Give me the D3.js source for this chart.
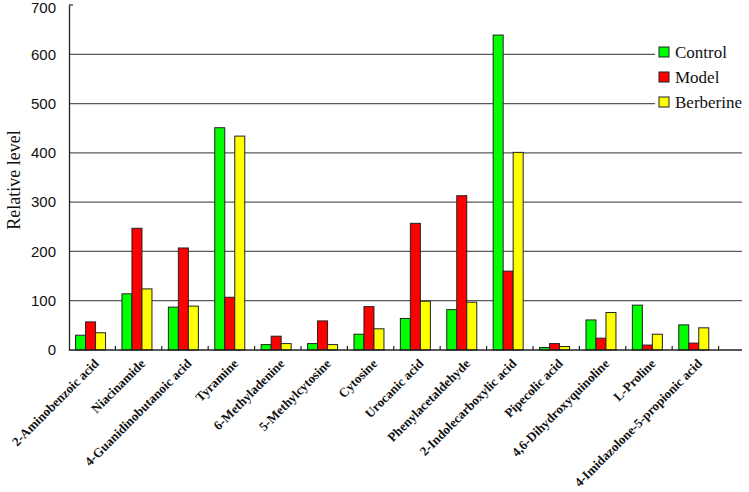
<!DOCTYPE html>
<html><head><meta charset="utf-8">
<script src="https://cdn.jsdelivr.net/npm/d3@7"></script>
<style>body{margin:0;background:#fff}svg{display:block}</style>
</head><body>
<script>
const categories = ["2-Aminobenzoic acid","Niacinamide","4-Guanidinobutanoic acid","Tyramine","6-Methyladenine","5-Methylcytosine","Cytosine","Urocanic acid","Phenylacetaldehyde","2-Indolecarboxylic acid","Pipecolic acid","4,6-Dihydroxyquinoline","L-Proline","4-Imidazolone-5-propionic acid"];
const seriesNames = ["Control","Model","Berberine"];
const control   = [30, 114, 87, 451, 11, 13, 32, 64, 82, 639, 5, 61, 91, 51];
const model     = [57, 247, 207, 107, 28, 59, 88, 257, 313, 160, 13, 24, 10, 14];
const berberine = [35, 124, 89, 434, 13, 11, 43, 99, 97, 401, 7, 76, 32, 45];
const colors = ["#00ff00","#ff0000","#ffff00"];
const yTicks = [0,100,200,300,400,500,600,700];

const W = 749, H = 492;
const SERIF = "'Liberation Serif', 'Times New Roman', serif";
const SANS = "'Liberation Sans', Arial, sans-serif";
const svg = d3.select("body").append("svg").attr("width", W).attr("height", H);

const x0 = 69, xEnd = 742;
const x = d3.scaleBand().domain(categories).range([x0, 718.6]).padding(0);
const xs = d3.scaleBand().domain(seriesNames).range([0, x.bandwidth()]).paddingInner(0).paddingOuter(0.82).align(0.4);
const y = d3.scaleLinear().domain([0, 700]).range([350, 5]);

// gridlines
svg.append("g").selectAll("line").data(yTicks.filter(t => t > 0 && t < 700)).join("line")
  .attr("x1", x0).attr("x2", xEnd).attr("y1", d => y(d)).attr("y2", d => y(d))
  .attr("stroke", "#5a5a5a").attr("stroke-width", 1.2);

// y axis
const yAxis = d3.axisLeft(y).tickValues(yTicks).tickSize(0).tickPadding(13);
const gy = svg.append("g").attr("transform", `translate(${x0},0)`).call(yAxis);
gy.select(".domain").attr("stroke", "#222").attr("stroke-width", 1.3);
gy.selectAll("text").attr("font-family", SANS).attr("font-size", 15).attr("fill", "#111")
  .attr("dy", d => d === 700 ? "0.5em" : "0.32em");
svg.append("line").attr("x1", x0).attr("x2", x0 + 4).attr("y1", y(700)).attr("y2", y(700)).attr("stroke", "#222").attr("stroke-width", 1.2);

// bars
const data = [control, model, berberine];
const groups = svg.append("g").selectAll("g").data(categories).join("g")
  .attr("transform", d => `translate(${x(d)},0)`);
groups.selectAll("rect").data((d, i) => seriesNames.map((s, j) => ({s, v: data[j][i], c: colors[j]}))).join("rect")
  .attr("x", d => xs(d.s)).attr("width", xs.bandwidth())
  .attr("y", d => y(d.v)).attr("height", d => y(0) - y(d.v))
  .attr("fill", d => d.c).attr("stroke", "#222").attr("stroke-width", 1);

// x axis line and ticks
svg.append("line").attr("x1", x0).attr("x2", xEnd).attr("y1", y(0)).attr("y2", y(0)).attr("stroke", "#222").attr("stroke-width", 1.3);
const bounds = categories.map(c => x(c)).concat([x(categories[categories.length - 1]) + x.bandwidth()]);
svg.append("g").selectAll("line").data(bounds.slice(1)).join("line")
  .attr("x1", d => d).attr("x2", d => d).attr("y1", y(0)).attr("y2", y(0) - 4)
  .attr("stroke", "#222").attr("stroke-width", 1.2);

// x labels
svg.append("g").selectAll("text").data(categories).join("text")
  .attr("transform", d => `translate(${x(d) + x.bandwidth() / 2 + 1},${358}) rotate(-45)`)
  .attr("text-anchor", "end").attr("dy", "0.7em")
  .attr("font-family", SERIF).attr("font-weight", "bold")
  .attr("font-size", 13).attr("fill", "#111").text(d => d);

// y title
svg.append("text").attr("transform", "translate(20,180) rotate(-90)").attr("text-anchor", "middle")
  .attr("font-family", SERIF).attr("font-size", 18).attr("fill", "#111")
  .text("Relative level");

// legend
const lg = svg.append("g");
lg.append("rect").attr("x", 655).attr("y", 38).attr("width", 94).attr("height", 78).attr("fill", "#fff");
const legY = [52, 77, 102];
seriesNames.forEach((s, i) => {
  lg.append("rect").attr("x", 659).attr("y", legY[i] - 5).attr("width", 10).attr("height", 10)
    .attr("fill", colors[i]).attr("stroke", "#222").attr("stroke-width", 1);
  lg.append("text").attr("x", 675).attr("y", legY[i]).attr("dy", "0.35em")
    .attr("font-family", SERIF).attr("font-size", 17).attr("fill", "#111").text(s);
});
</script>
</body></html>
